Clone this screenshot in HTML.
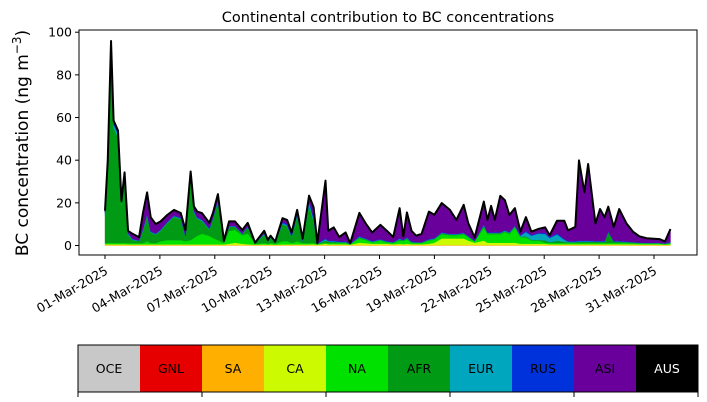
<!DOCTYPE html>
<html><head><meta charset="utf-8"><style>
html,body{margin:0;padding:0;background:#fff;}
svg{display:block;font-family:"DejaVu Sans","Liberation Sans",sans-serif;}
</style></head><body>
<svg id="chart" width="707" height="402" viewBox="0 0 707 402" xmlns="http://www.w3.org/2000/svg">
<rect width="707" height="402" fill="#fff"/>
<text x="388" y="22" font-size="14.5" text-anchor="middle">Continental contribution to BC concentrations</text>
<text transform="translate(28,143) rotate(-90)" font-size="17" text-anchor="middle">BC concentration (ng m<tspan font-size="12" dy="-7">−3</tspan><tspan dy="7">)</tspan></text>
<g id="areas"></g>
<g id="axes"></g>
<g id="legend"></g>
</svg>
<script>
const days = [1,1.15,1.33,1.47,1.71,1.9,2.07,2.26,2.5,2.86,3.08,3.3,3.5,3.77,4.04,4.4,4.77,5.14,5.4,5.68,5.86,6.04,6.3,6.7,6.9,7.17,7.5,7.78,8.1,8.5,8.8,9.2,9.7,9.9,10.05,10.3,10.7,10.95,11.2,11.5,11.8,12.15,12.4,12.6,13.05,13.2,13.5,13.8,14.15,14.4,14.9,15.25,15.6,16.05,16.4,16.75,17.1,17.3,17.5,17.75,18.0,18.3,18.7,19.0,19.4,19.85,20.2,20.6,20.85,21.2,21.7,21.9,22.1,22.3,22.6,22.85,23.1,23.4,23.7,24.0,24.3,24.7,25.05,25.3,25.7,26.1,26.3,26.7,26.9,27.2,27.4,27.8,28.05,28.3,28.5,28.8,29.1,29.5,29.85,30.2,30.6,31.3,31.6,31.9];
const regions = ["OCE","GNL","SA","CA","NA","AFR","EUR","RUS","ASI","AUS"];
const sa = [.3,.3,.3,.3,.3,.3,.3,.3,.3,.3, .3,.3,.3,.3,.3,.3,.3,.3,.3,.3, .3,.3,.3,.3,.3,.3,.3,.3,.3,.3, .3,.3,.3,.3,.3,.3,.3,.3,.3,.3, .3,.3,.3,.3,.3,.3,.3,.3,.3,.3, .3,.3,.3,.3,.3,.3,.3,.3,.3,.3, .3,.3,.3,.3,.3,.3,.3,.3,.3,.3, .3,.3,.3,.3,.3,.3,.3,.3,.3,.3, .3,.3,.3,.3,.3,.3,.3,.3,.3,.3, .3,.3,.3,.3,.3,.3,.3,.3,.3,.3, .3,.3,.3,.3];
const ca = [.3,.3,.3,.3,.3,.3,.3,.2,.2,.2, .2,.2,.2,.2,.2,.2,.2,.2,.2,.2, .2,.2,.2,.2,.2,.2,.2,.5,1,.5, .3,.1,.2,.1,.2,.1,.2,.2,.2,.2, .2,.2,.3,.1,.5,.3,.3,.3,.3,.1, 1,.8,.5,.5,.5,.3,.5,.3,.5,.3, .3,.3,.5,1,3,3,3,3,2,1, 2,1,1,1,1,1,1,1,.5,.5, .5,.5,.5,.3,.3,.3,.3,.3,.3,.3, .3,.3,.3,.3,.3,.3,.3,.3,.3,.2, .2,.2,.1,.2];
const na = [.6,.6,.6,.6,.6,.6,.6,.6,.6,.6, .6,1.5,.6,.6,1.5,2,2,2,1.5,2, 3,4,5,4,3,2,.6,6,6,4, 5,.4,.6,.5,.6,.4,1.5,1.5,.6,1.5, .6,.6,.6,.2,.6,.6,.6,.6,.6,.2, 2,1.5,.6,1.5,.6,.6,1.5,1.5,2,.6, .6,.6,1.5,1.5,2,1.5,1.5,2,1.5,.6, 6,4,4,4,4,5,4,7,3,3, 1.5,1.5,.6,.6,.6,.6,.6,.6,.6,.6, .6,.6,.6,.6,.6,.6,.6,.6,.5,.5, .4,.4,.3,.5];
const afr = [13,35,89,54,49.5,17.5,31,4,1.5,1, 6,12,5,4,5,8,11,10,2,30, 12,8,6,3,9,18,.5,2,1.5,.5, 3,.2,4,1,2.5,.5,8,7,3,12, 1,18,10,.1,1,.5,.5,.3,.3,.1, .5,.3,.3,.3,.3,.2,.5,.3,.5,.3, .2,.2,.3,.3,.5,.3,.3,.3,.3,.2, 1,.5,.5,.5,.5,.5,.5,.5,.3,.5, .3,.3,1,.3,1,.5,.3,.3,.5,.5, .5,.5,.5,.5,5,.5,.5,.3,.3,.2, .2,.2,.1,.3];
const eur = [1,1.5,2,1.5,1.5,1,1,.5,.3,.2, .5,.5,.3,.3,.3,.3,.3,.3,.3,.5, .5,.4,.4,.3,.3,.5,.1,.2,.2,.2, .2,.1,.3,.1,.2,.1,.5,.5,.3,.5, .2,1,1,.1,.5,.3,.3,.2,.2,.1, .3,.2,.2,.2,.2,.1,.3,.1,.3,.2, .1,.1,.2,.2,.2,.2,.2,.2,.2,.1, .3,.2,.2,.2,.2,.2,.3,.3,.5,2, 2,3,3,2,3,1,.3,.3,.3,.3, .3,.2,.2,.2,.2,.2,.2,.2,.1,.1, .1,.1,.1,.2];
const rus = [.5,1,2,1,1,.5,.5,.3,.2,.1, .4,.4,.3,.2,.2,.3,.3,.3,.3,.5, .3,.3,.3,.3,.3,.5,.1,.2,.2,.2, .2,.1,.3,.1,.2,.1,.5,.5,.3,.5, .2,1,1,.1,.5,.3,.3,.2,.2,.1, .3,.2,.2,.2,.2,.1,.3,.1,.3,.2, .1,.1,.2,.2,.2,.2,.2,.2,.2,.1, .3,.2,.2,.2,.2,.2,.2,.2,.2,.5, .3,.3,.5,.3,.5,.3,.2,.2,.3,.3, .3,.2,.2,.2,.2,.2,.2,.2,.1,.1, .1,.1,.1,.2];
const asi = [.6,1.2,1.7,.9,.7,.7,.6,1,2.4,1.5, 7.5,10,6.5,4.5,3.8,3.2,2.6,2.1,2.7,1.2, 2,2.7,3,2.5,2.2,2.6,.4,2.1,2.1,1.6, 1.6,.1,1.2,.5,.6,.3,1.8,2,1.4,1.7, .7,2.3,4.7,.2,27,4.6,6.2,2.1,4.2,.2, 10.9,7,4,6.7,4.8,2.4,14.1,1.6,11.6,5, 3,3.9,12.9,10.9,13.7,11.2,6.5,13.1,6,1.5, 10.7,5.8,12.4,5.8,17.1,14.1,8,8.2,1.7,6.5, 1.6,1.9,2.6,1,5.9,8.6,5.1,6.7,37.6,22.6, 35.9,8.2,15,11.1,11.6,6.6,15,8.4,4.9,2.9, 2.1,1.7,.9,6];
const yTicks = [0,20,40,60,80,100];
const xTickDays = [1,4,7,10,13,16,19,22,25,28,31];
const xTickLabels = ["01-Mar-2025","04-Mar-2025","07-Mar-2025","10-Mar-2025","13-Mar-2025","16-Mar-2025","19-Mar-2025","22-Mar-2025","25-Mar-2025","28-Mar-2025","31-Mar-2025"];

const NS = "http://www.w3.org/2000/svg";
const PL = 79, PR = 697, PT = 30, PB = 255;
const xs = d => 105 + (d - 1) * 18.3;
const ys = v => 245.5 - v * 2.133;
const colors = {SA:"#ffaf00",CA:"#ccfa00",NA:"#00e100",AFR:"#009a14",EUR:"#00a5be",RUS:"#0032dc",ASI:"#69009b"};
const stackOrder = [["SA",sa],["CA",ca],["NA",na],["AFR",afr],["EUR",eur],["RUS",rus],["ASI",asi]];

const areas = document.getElementById("areas");
let base = days.map(() => 0);
stackOrder.forEach(([name, arr]) => {
  const top = base.map((b, i) => b + arr[i]);
  let d = "M" + days.map((t, i) => xs(t).toFixed(2) + "," + ys(top[i]).toFixed(2)).join("L");
  for (let i = days.length - 1; i >= 0; i--) d += "L" + xs(days[i]).toFixed(2) + "," + ys(base[i]).toFixed(2);
  d += "Z";
  const p = document.createElementNS(NS, "path");
  p.setAttribute("d", d);
  p.setAttribute("fill", colors[name]);
  p.setAttribute("stroke", colors[name]);
  p.setAttribute("stroke-width", "0.4");
  
  
  areas.appendChild(p);
  base = top;
});
const line = document.createElementNS(NS, "polyline");
line.setAttribute("points", days.map((t, i) => xs(t).toFixed(2) + "," + ys(base[i]).toFixed(2)).join(" "));
line.setAttribute("fill", "none");
line.setAttribute("stroke", "#000");
line.setAttribute("stroke-width", "2");
line.setAttribute("stroke-linejoin", "round");


areas.appendChild(line);

const axes = document.getElementById("axes");
const frame = document.createElementNS(NS, "rect");
frame.setAttribute("x", PL); frame.setAttribute("y", PT);
frame.setAttribute("width", PR - PL); frame.setAttribute("height", PB - PT);
frame.setAttribute("fill", "none"); frame.setAttribute("stroke", "#000"); frame.setAttribute("stroke-width", "1");


axes.appendChild(frame);
yTicks.forEach(v => {
  const y = ys(v);
  const tk = document.createElementNS(NS, "line");
  tk.setAttribute("x1", PL - 4); tk.setAttribute("x2", PL); tk.setAttribute("y1", y); tk.setAttribute("y2", y);
  tk.setAttribute("stroke", "#000");
  
  
  axes.appendChild(tk);
  const tx = document.createElementNS(NS, "text");
  tx.setAttribute("x", PL - 7); tx.setAttribute("y", y + 4.5);
  tx.setAttribute("font-size", "12.5"); tx.setAttribute("text-anchor", "end");
  tx.textContent = v;
  
  
  axes.appendChild(tx);
});
xTickDays.forEach((d, i) => {
  const x = xs(d);
  const tk = document.createElementNS(NS, "line");
  tk.setAttribute("x1", x); tk.setAttribute("x2", x); tk.setAttribute("y1", PB); tk.setAttribute("y2", PB + 4);
  tk.setAttribute("stroke", "#000");
  
  
  axes.appendChild(tk);
  const tx = document.createElementNS(NS, "text");
  tx.setAttribute("transform", "translate(" + (x - 1) + "," + (PB + 10) + ") rotate(-30)");
  tx.setAttribute("font-size", "12.5"); tx.setAttribute("text-anchor", "end");
  tx.setAttribute("dominant-baseline", "hanging");
  tx.textContent = xTickLabels[i];
  
  
  axes.appendChild(tx);
});

const legendColors = ["#c8c8c8","#e60000","#ffaf00","#ccfa00","#00e100","#009a14","#00a5be","#0032dc","#69009b","#000000"];
const legend = document.getElementById("legend");
const LX = 78, LW = 620, LY = 345, LH = 47, segW = LW / regions.length;
regions.forEach((r, i) => {
  const rc = document.createElementNS(NS, "rect");
  rc.setAttribute("x", LX + i * segW); rc.setAttribute("y", LY);
  rc.setAttribute("width", segW + 0.5); rc.setAttribute("height", LH);
  rc.setAttribute("fill", legendColors[i]);
  
  
  legend.appendChild(rc);
  const tx = document.createElementNS(NS, "text");
  tx.setAttribute("x", LX + i * segW + segW / 2); tx.setAttribute("y", LY + LH / 2 + 4.5);
  tx.setAttribute("font-size", "12.5"); tx.setAttribute("text-anchor", "middle");
  tx.setAttribute("fill", r === "AUS" ? "#fff" : "#000");
  tx.textContent = r;
  
  
  legend.appendChild(tx);
});
const lb = document.createElementNS(NS, "rect");
lb.setAttribute("x", LX); lb.setAttribute("y", LY); lb.setAttribute("width", LW); lb.setAttribute("height", LH);
lb.setAttribute("fill", "none"); lb.setAttribute("stroke", "#000");


legend.appendChild(lb);
for (let k = 0; k <= 5; k++) {
  const tk = document.createElementNS(NS, "line");
  const x = LX + k * 2 * segW;
  tk.setAttribute("x1", x); tk.setAttribute("x2", x); tk.setAttribute("y1", LY + LH); tk.setAttribute("y2", LY + LH + 5);
  tk.setAttribute("stroke", "#000");
  
  
  legend.appendChild(tk);
}
</script>
</body></html>
